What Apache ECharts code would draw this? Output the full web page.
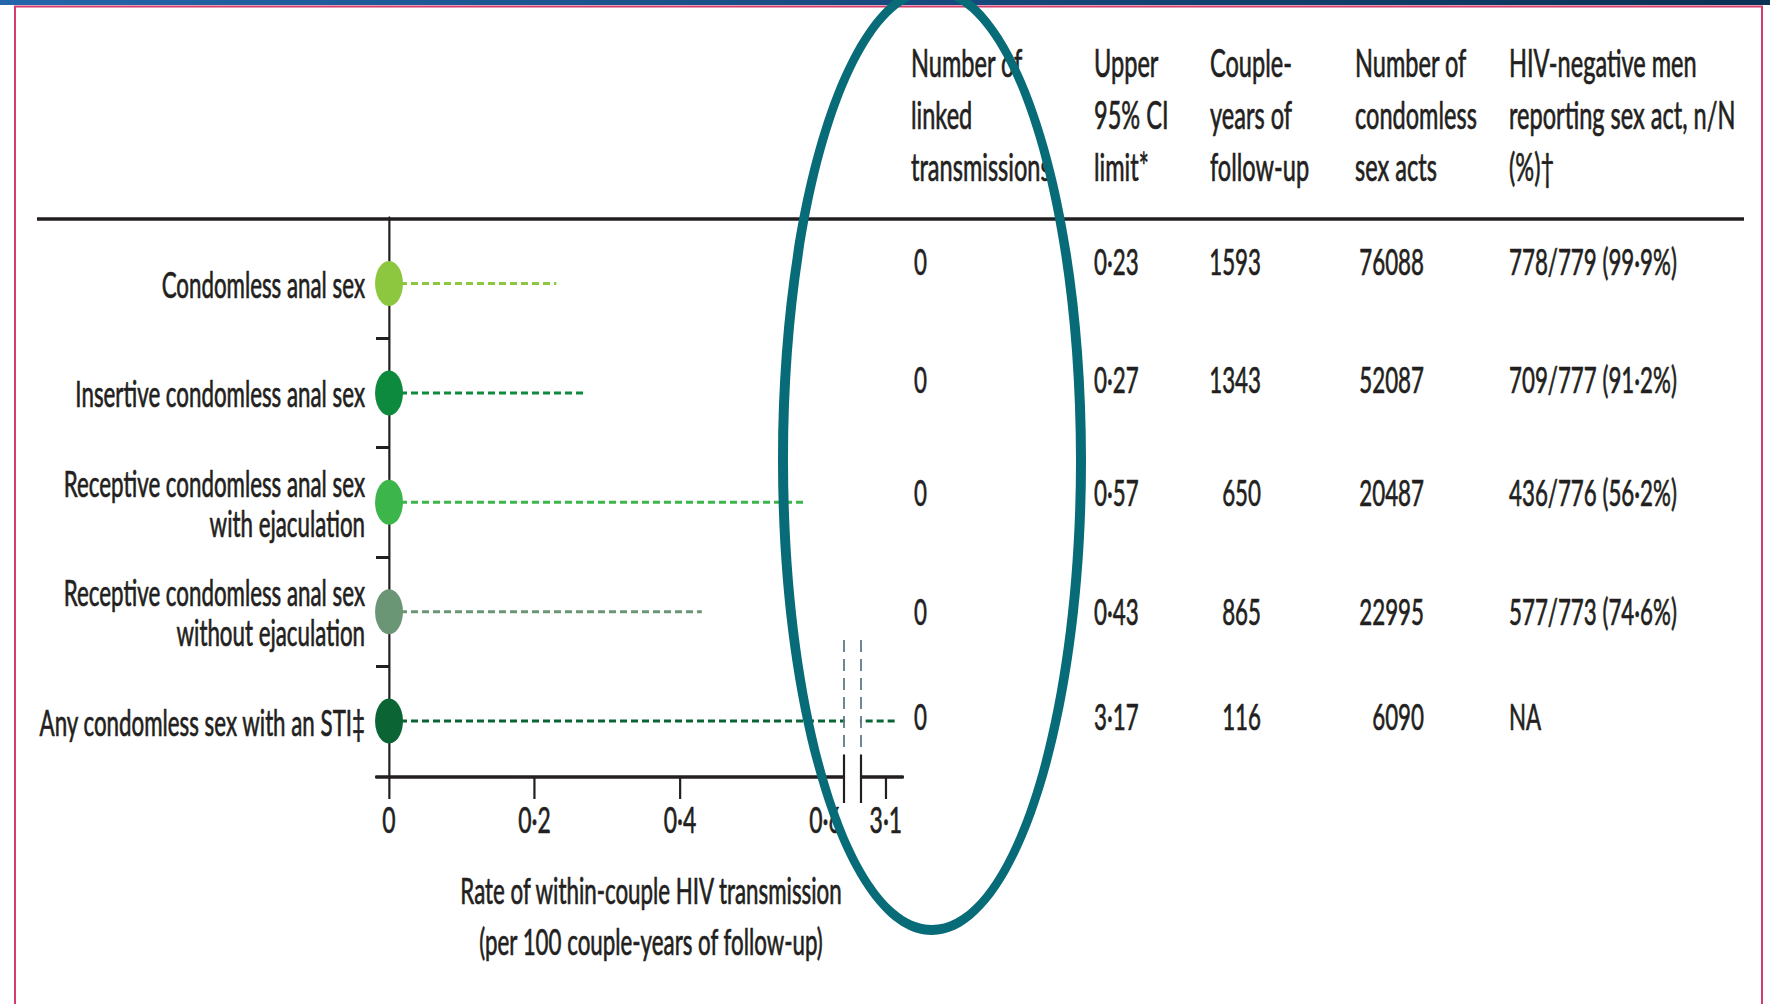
<!DOCTYPE html>
<html>
<head>
<meta charset="utf-8">
<script src="https://cdn.jsdelivr.net/npm/echarts@6/dist/echarts.min.js"></script>
<style>
  html, body { margin: 0; padding: 0; background: #fff; overflow: hidden; }
  #frame { width: 1770px; height: 1004px; overflow: hidden; position: relative; }
  #chart { position: absolute; left: 0; top: 0; height: 1004px; transform-origin: 0 0; }
</style>
</head>
<body>
<div id="frame"><div id="chart"></div></div>
<script>
// ---- data ----
const rowLabels = [
  'Condomless anal sex',
  'Insertive condomless anal sex',
  'Receptive condomless anal sex\nwith ejaculation',
  'Receptive condomless anal sex\nwithout ejaculation',
  'Any condomless sex with an STI\u2021'
];
const pointRate = [0, 0, 0, 0, 0];
const upperCI = [0.23, 0.27, 0.57, 0.43, 3.17];
const linkedTransmissions = [0, 0, 0, 0, 0];
const coupleYears = [1593, 1343, 650, 865, 116];
const condomlessActs = [76088, 52087, 20487, 22995, 6090];
const menReporting = ['778/779 (99\u00b79%)', '709/777 (91\u00b72%)', '436/776 (56\u00b72%)', '577/773 (74\u00b76%)', 'NA'];
const headers = [
  'Number of\nlinked\ntransmissions',
  'Upper\n95% CI\nlimit*',
  'Couple-\nyears of\nfollow-up',
  'Number of\ncondomless\nsex acts',
  'HIV-negative men\nreporting sex act, n/N\n(%)\u2020'
];
const xTicksLower = [0, 0.2, 0.4, 0.6];
const xTicksUpper = [3.1];
const axisTitle = 'Rate of within-couple HIV transmission\n(per 100 couple-years of follow-up)';

// ---- styling ----
const rowColors = ['#8dc63f', '#0e8a3e', '#3cb54a', '#6b9675', '#0b6434'];
const INK = '#231f20';
const FONT = 'Lato, "Open Sans", sans-serif';

// The drawing surface is squeezed horizontally to give the narrow, tall lettering.
const S = 0.62;
const px = v => v / S;             // page-space horizontal length -> drawing space
const PAGE_W = 1770, PAGE_H = 1004;

// page-space layout
const PLOT_TOP = 218, PLOT_BOTTOM = 777;
const AXIS_START = 376, ZERO_X = 389, PX_PER_UNIT = 727.5;
const BREAK_L = 844, BREAK_R = 861, AXIS_END = 903;
const ROW0_Y = 283.5, ROW_STEP = 109.4;
const UPPER_MIN = 2.94, UPPER_MAX = 3.21;
const TABLE_LINE_Y = [261, 379, 492, 611, 716];   // text lines of the table, page space

const lowerMin = -(ZERO_X - AXIS_START) / PX_PER_UNIT;
const lowerMax = (BREAK_L - ZERO_X) / PX_PER_UNIT;
const toRowUnits = y => (y - ROW0_Y) / ROW_STEP;
const rowMin = toRowUnits(PLOT_TOP);
const rowMax = toRowUnits(PLOT_BOTTOM);
const rowIdx = rowLabels.map((_, i) => i);
const tablePos = TABLE_LINE_Y.map(toRowUnits);
const nearestRow = v => {
  let best = 0;
  tablePos.forEach((p, i) => { if (Math.abs(p - v) < Math.abs(tablePos[best] - v)) best = i; });
  return best;
};

const fmtRate = v => (v === 0 ? '0' : String(v).replace('.', '\u00b7'));
const fmtCI = v => v.toFixed(2).replace('.', '\u00b7');

// elliptical band: outer contour one way, inner the other, so the fill leaves a hole
function traceEllipse(ctx, cx, cy, rx, ry, dir) {
  const k = 0.5522847498, ox = rx * k, oy = ry * k * dir;
  const sy = ry * dir;
  ctx.moveTo(cx + rx, cy);
  ctx.bezierCurveTo(cx + rx, cy + oy, cx + ox, cy + sy, cx, cy + sy);
  ctx.bezierCurveTo(cx - ox, cy + sy, cx - rx, cy + oy, cx - rx, cy);
  ctx.bezierCurveTo(cx - rx, cy - oy, cx - ox, cy - sy, cx, cy - sy);
  ctx.bezierCurveTo(cx + ox, cy - sy, cx + rx, cy - oy, cx + rx, cy);
  ctx.closePath();
}
echarts.graphic.registerShape('ellipseBand', echarts.graphic.extendShape({
  shape: { cx: 0, cy: 0, rx: 0, ry: 0, ix: 0, iy: 0 },
  buildPath(ctx, s) {
    traceEllipse(ctx, s.cx, s.cy, s.rx, s.ry, 1);
    traceEllipse(ctx, s.cx, s.cy, s.ix, s.iy, -1);
  }
}));

const el = document.getElementById('chart');
el.style.width = (PAGE_W / S) + 'px';
el.style.transform = 'scaleX(' + S + ')';
const chart = echarts.init(el, null, { renderer: 'svg' });

// a hairline outline in the ink colour gives the lettering a slightly heavier weight
const textBase = {
  fontFamily: FONT, color: INK, fontWeight: 'normal',
  textBorderColor: INK, textBorderWidth: 0.7
};

// table columns, drawn as label-only axes beside the plot
const tableCols = [
  { x: 914, align: 'left', text: linkedTransmissions.map(String) },
  { x: 1094, align: 'left', text: upperCI.map(fmtCI) },
  { x: 1261, align: 'right', text: coupleYears.map(String) },
  { x: 1424, align: 'right', text: condomlessActs.map(String) },
  { x: 1509, align: 'left', text: menReporting }
];
const headerX = [911, 1094, 1210, 1355, 1509];

const hiddenRowAxis = (grid) => ({
  type: 'value', gridIndex: grid, inverse: true, min: rowMin, max: rowMax,
  show: false, splitLine: { show: false }
});

const yAxes = [
  {
    type: 'value', gridIndex: 0, inverse: true, min: rowMin, max: rowMax,
    axisLine: { show: true, onZero: true, lineStyle: { color: INK, width: px(2.2) } },
    axisTick: { show: true, customValues: [0.5, 1.5, 2.5, 3.5], length: px(13), lineStyle: { color: INK, width: 3 } },
    axisLabel: {
      customValues: rowIdx, formatter: v => rowLabels[Math.round(v)],
      margin: px(11), align: 'right', fontSize: 36, lineHeight: 40, ...textBase
    },
    splitLine: { show: false }
  },
  hiddenRowAxis(1)
];
tableCols.forEach(col => {
  yAxes.push({
    type: 'value', gridIndex: 1, position: 'right', offset: px(col.x - AXIS_END),
    inverse: true, min: rowMin, max: rowMax,
    axisLine: { show: false }, axisTick: { show: false }, splitLine: { show: false },
    axisLabel: {
      customValues: tablePos, formatter: v => col.text[nearestRow(v)],
      margin: 0, align: col.align, fontSize: 36, ...textBase
    }
  });
});

const xAxes = [
  {
    type: 'value', gridIndex: 0, min: lowerMin, max: lowerMax,
    axisLine: { show: true, onZero: false, lineStyle: { color: INK, width: 3.5 } },
    axisTick: { show: true, customValues: xTicksLower, length: 22, lineStyle: { color: INK, width: px(2.2) } },
    axisLabel: { customValues: xTicksLower, formatter: fmtRate, margin: 24, fontSize: 37, ...textBase },
    splitLine: { show: false },
    name: axisTitle, nameLocation: 'middle', nameGap: 87,
    nameTextStyle: { fontSize: 36, lineHeight: 51, padding: [0, 0, 0, px(82)], ...textBase }
  },
  {
    type: 'value', gridIndex: 1, min: UPPER_MIN, max: UPPER_MAX,
    axisLine: { show: true, onZero: false, lineStyle: { color: INK, width: 3.5 } },
    axisTick: { show: true, customValues: xTicksUpper, length: 22, lineStyle: { color: INK, width: px(2.2) } },
    axisLabel: { customValues: xTicksUpper, formatter: fmtRate, margin: 24, fontSize: 37, ...textBase },
    splitLine: { show: false }
  }
];

const dash = [px(7), px(4)];
const series = [];
rowLabels.forEach((_, i) => {
  series.push({
    type: 'line', xAxisIndex: 0, yAxisIndex: 0, clip: true, z: 3, silent: true,
    data: [
      { value: [pointRate[i], i], symbol: 'circle', symbolSize: 45 },
      { value: [upperCI[i], i], symbol: 'none' }
    ],
    itemStyle: { color: rowColors[i] },
    lineStyle: { color: rowColors[i], width: 3, type: dash }
  });
  // intervals reaching past the break continue on the upper segment
  if (upperCI[i] > UPPER_MIN) {
    series.push({
      type: 'line', xAxisIndex: 1, yAxisIndex: 1, clip: true, z: 3, silent: true,
      symbol: 'none',
      data: [[pointRate[i], i], [upperCI[i], i]],
      lineStyle: { color: rowColors[i], width: 3, type: dash }
    });
  }
});

const breakLine = (x) => [
  { type: 'line', z: 5, shape: { x1: px(x), y1: 640, x2: px(x), y2: 755 },
    style: { stroke: '#5d7c8c', lineWidth: px(1.8), lineDash: [12, 7] } },
  { type: 'line', z: 5, shape: { x1: px(x), y1: 755, x2: px(x), y2: 803 },
    style: { stroke: INK, lineWidth: px(2.2) } }
];

const graphic = [
  { type: 'rect', z: 1, shape: { x: 0, y: 0, width: px(PAGE_W), height: 5 },
    style: { fill: new echarts.graphic.LinearGradient(0, 0, 1, 0, [
      { offset: 0, color: '#2466ab' }, { offset: 1, color: '#0b3154' }]) } },
  { type: 'line', z: 1, shape: { x1: px(14), y1: 6.5, x2: px(1763), y2: 6.5 },
    style: { stroke: '#d43d6b', lineWidth: 2 } },
  { type: 'line', z: 1, shape: { x1: px(15), y1: 6, x2: px(15), y2: PAGE_H },
    style: { stroke: '#d43d6b', lineWidth: px(2) } },
  { type: 'line', z: 1, shape: { x1: px(1762), y1: 6, x2: px(1762), y2: PAGE_H },
    style: { stroke: '#d43d6b', lineWidth: px(2) } },
  { type: 'line', z: 1, shape: { x1: px(37), y1: 219, x2: px(1744), y2: 219 },
    style: { stroke: INK, lineWidth: 3.5 } },
  ...breakLine(BREAK_L),
  ...breakLine(BREAK_R),
  { type: 'ellipseBand', z: 10,
    shape: { cx: px(932), cy: 460, rx: px(154), ry: 475, ix: px(144), iy: 465 },
    style: { fill: '#086b78' } }
];

chart.setOption({
  backgroundColor: '#ffffff',
  animation: false,
  title: headers.map((h, i) => ({
    text: h, left: px(headerX[i]), top: 37, padding: 0,
    textStyle: { fontSize: 38, lineHeight: 52, ...textBase }
  })),
  grid: [
    { left: px(AXIS_START), top: PLOT_TOP, width: px(BREAK_L - AXIS_START), height: PLOT_BOTTOM - PLOT_TOP,
      containLabel: false, outerBoundsMode: 'none' },
    { left: px(BREAK_R), top: PLOT_TOP, width: px(AXIS_END - BREAK_R), height: PLOT_BOTTOM - PLOT_TOP,
      containLabel: false, outerBoundsMode: 'none' }
  ],
  xAxis: xAxes,
  yAxis: yAxes,
  series: series,
  graphic: graphic
});
</script>
</body>
</html>
